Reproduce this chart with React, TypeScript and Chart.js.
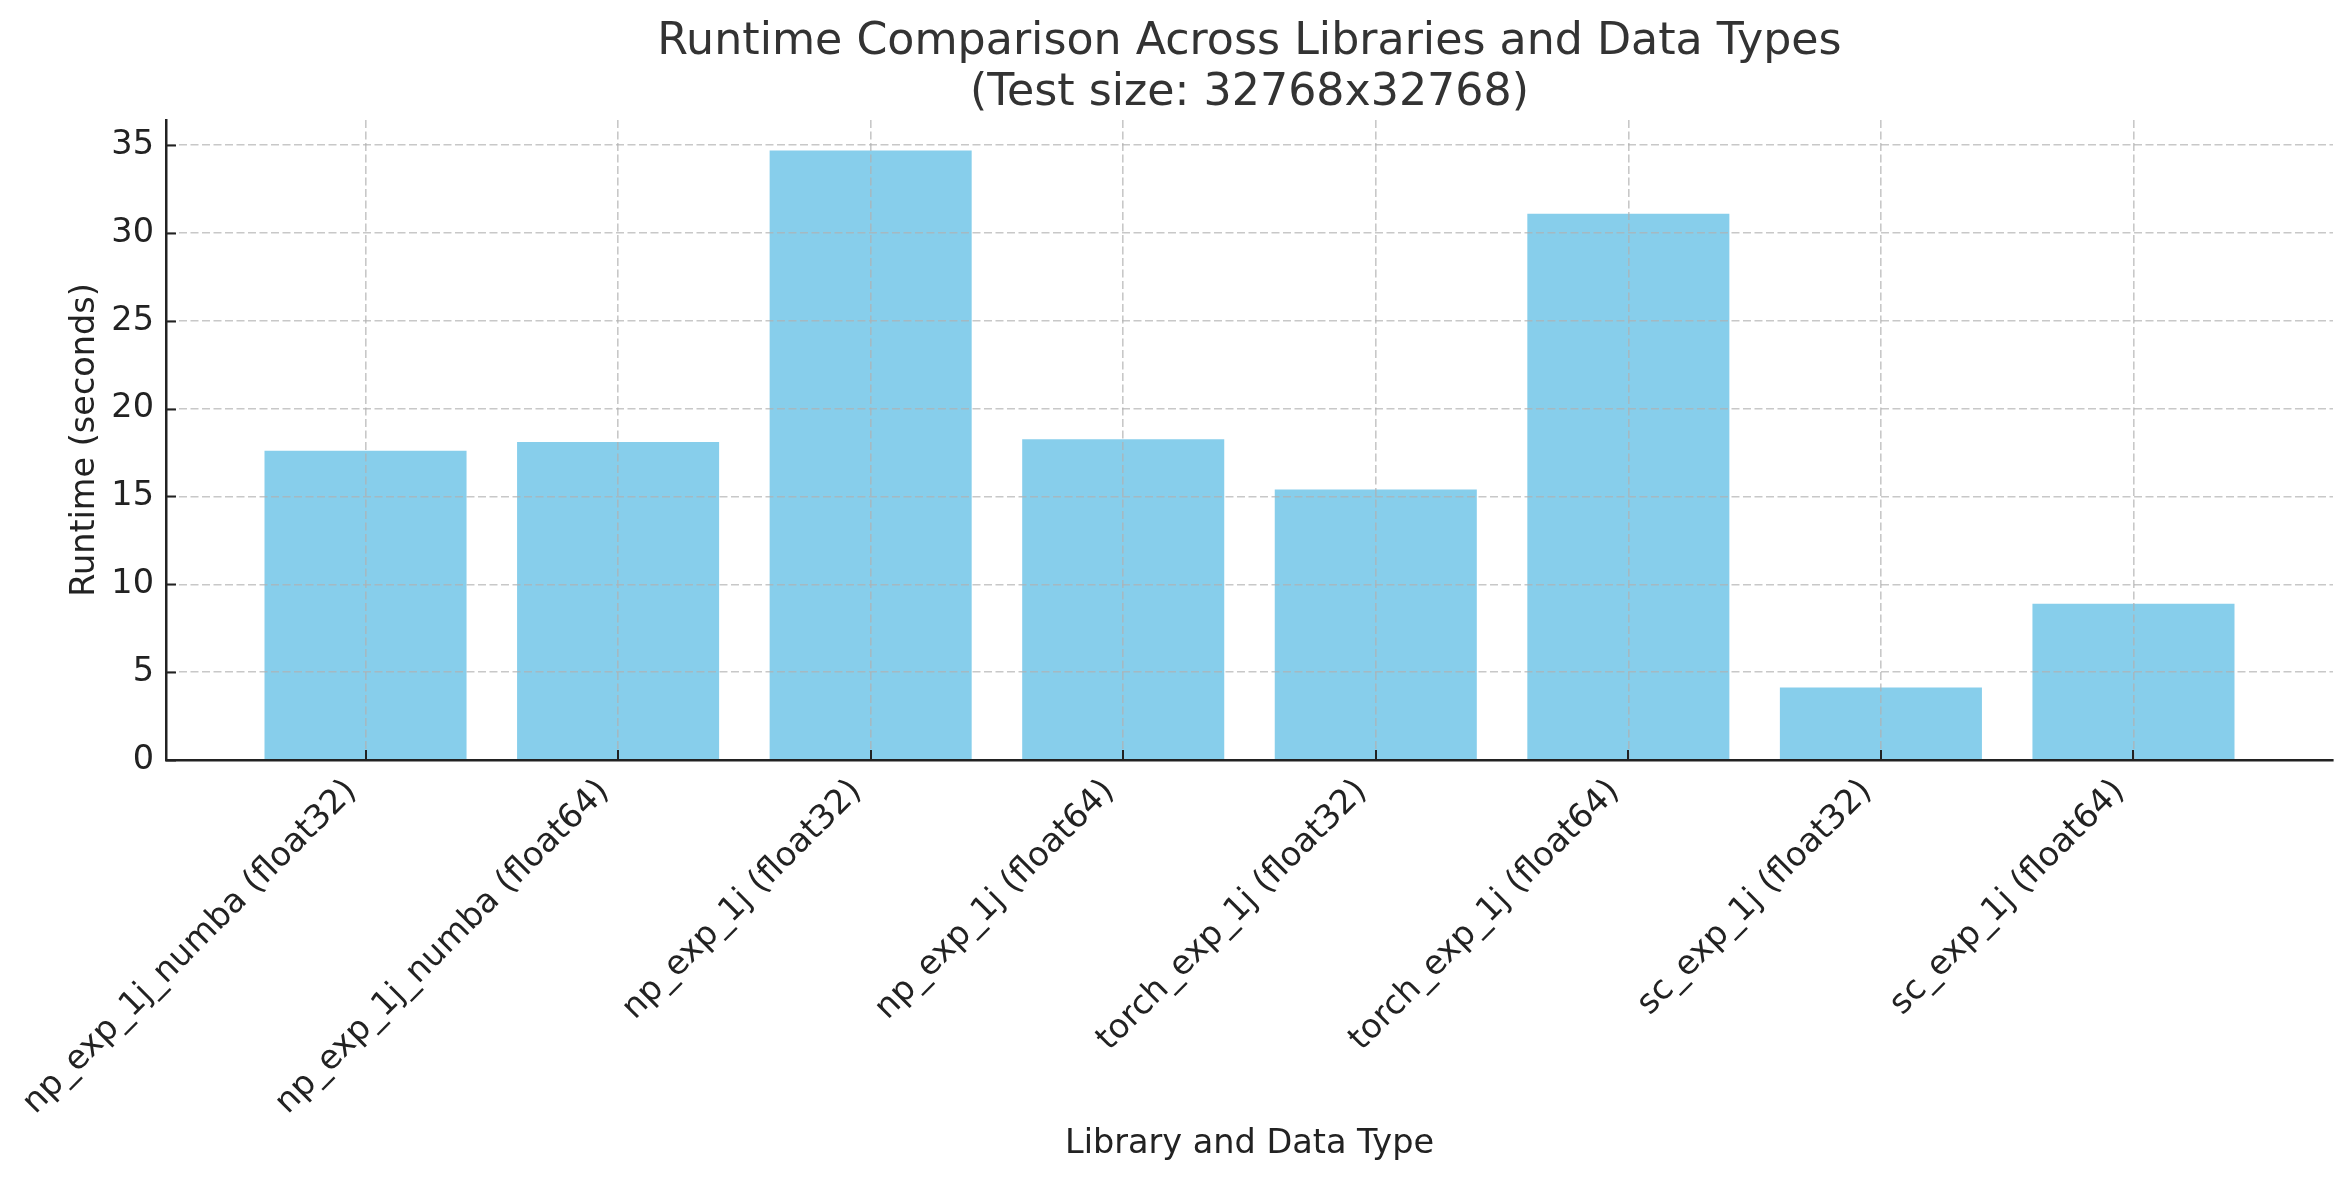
import { useEffect, useRef } from "react"
import { Chart, registerables } from "chart.js"

Chart.register(...registerables)

const categories = [
  "np_exp_1j_numba (float32)",
  "np_exp_1j_numba (float64)",
  "np_exp_1j (float32)",
  "np_exp_1j (float64)",
  "torch_exp_1j (float32)",
  "torch_exp_1j (float64)",
  "sc_exp_1j (float32)",
  "sc_exp_1j (float64)",
]
const runtimes = [17.6, 18.1, 34.7, 18.26, 15.4, 31.1, 4.12, 8.9]
const titleLines = ["Runtime Comparison Across Libraries and Data Types", "(Test size: 32768x32768)"]
const xLabel = "Library and Data Type"
const yLabel = "Runtime (seconds)"

const FONT = "'DejaVu Sans', sans-serif"
const TEXT = "#222222"

// title centred over the plot area, like matplotlib's ax.set_title
const axesTitle = {
  id: "axesTitle",
  afterDraw(chart: any) {
    const { ctx, chartArea } = chart
    const cx = (chartArea.left + chartArea.right) / 2
    ctx.save()
    ctx.fillStyle = "#333333"
    ctx.font = `44.3px ${FONT}`
    ctx.textAlign = "center"
    ctx.textBaseline = "alphabetic"
    ctx.fillText(titleLines[0], cx, 54)
    ctx.fillText(titleLines[1], cx, 105)
    ctx.restore()
  },
}

// matplotlib-style inward tick marks
const inwardTicks = {
  id: "inwardTicks",
  afterDraw(chart: any) {
    const { ctx, chartArea, scales } = chart
    ctx.save()
    ctx.strokeStyle = TEXT
    ctx.lineWidth = 2
    scales.y.ticks.forEach((t: any) => {
      const py = Math.round(scales.y.getPixelForValue(t.value)) + 0.5
      ctx.beginPath()
      ctx.moveTo(chartArea.left, py)
      ctx.lineTo(chartArea.left + 10, py)
      ctx.stroke()
    })
    scales.x.ticks.forEach((t: any) => {
      const px = Math.round(scales.x.getPixelForValue(t.value))
      ctx.beginPath()
      ctx.moveTo(px, chartArea.bottom)
      ctx.lineTo(px, chartArea.bottom - 10)
      ctx.stroke()
    })
    ctx.restore()
  },
}

export default function App() {
  const chartRef = useRef<HTMLCanvasElement>(null)
  const chartInstance = useRef<Chart | null>(null)

  useEffect(() => {
    if (!chartRef.current) return
    document.body.style.margin = "0"

    if (chartInstance.current) {
      chartInstance.current.destroy()
    }

    const ctx = chartRef.current.getContext("2d")
    if (!ctx) return

    chartInstance.current = new Chart(ctx, {
      type: "bar",
      data: {
        datasets: [
          {
            label: "Runtime",
            data: runtimes.map((v, i) => ({ x: i, y: v })),
            backgroundColor: "#87CEEB",
            borderWidth: 0,
            barPercentage: 0.8,
            categoryPercentage: 1.0,
          },
        ],
      },
      plugins: [inwardTicks, axesTitle],
      options: {
        responsive: true,
        maintainAspectRatio: false,
        animation: false,
        layout: {
          padding: { left: 0, right: 18, top: 120, bottom: 0 },
        },
        scales: {
          x: {
            type: "linear",
            min: -0.79,
            max: 7.79,
            offset: false,
            afterFit: (scale: any) => {
              scale.height = 420
            },
            ticks: {
              stepSize: 1,
              includeBounds: false,
              autoSkip: false,
              minRotation: 45,
              maxRotation: 45,
              padding: 12,
              labelOffset: -14,
              color: TEXT,
              font: { family: FONT, size: 33.5 },
              callback: (value: any) => categories[value] ?? "",
            },
            grid: {
              offset: false,
              drawTicks: false,
              color: "rgba(176,176,176,0.7)",
              lineWidth: 1.6,
              z: 1,
            },
            border: {
              display: true,
              color: TEXT,
              width: 2.5,
              dash: [8, 3.5],
              z: 2,
            },
            title: {
              display: true,
              text: xLabel,
              color: TEXT,
              font: { family: FONT, size: 33.5 },
              padding: { top: 0, bottom: 16 },
            },
          },
          y: {
            min: 0,
            max: 36.43,
            afterFit: (scale: any) => {
              scale.width = 166
            },
            ticks: {
              stepSize: 5,
              includeBounds: false,
              padding: 12,
              color: TEXT,
              font: { family: FONT, size: 33.5 },
            },
            grid: {
              drawTicks: false,
              color: "rgba(176,176,176,0.7)",
              lineWidth: 1.6,
              z: 1,
            },
            border: {
              display: true,
              color: TEXT,
              width: 2.5,
              dash: [8, 3.5],
              z: 2,
            },
            title: {
              display: true,
              text: yLabel,
              color: TEXT,
              font: { family: FONT, size: 33.5 },
              padding: { top: 65, bottom: 0 },
            },
          },
        },
        plugins: {
          legend: { display: false },
          tooltip: { enabled: false },
          title: { display: false },
        },
      },
    } as any)

    return () => {
      if (chartInstance.current) {
        chartInstance.current.destroy()
        chartInstance.current = null
      }
    }
  }, [])

  return (
    <div style={{ position: "fixed", left: 0, top: 0, width: 2351, height: 1180, background: "#fff" }}>
      <canvas ref={chartRef} />
    </div>
  )
}
